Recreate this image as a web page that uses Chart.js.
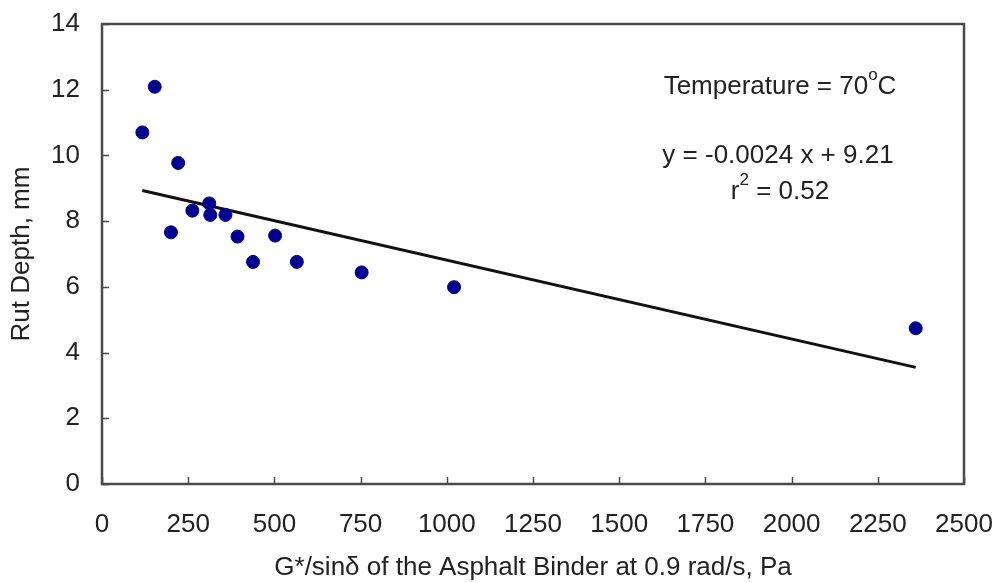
<!DOCTYPE html>
<html>
<head>
  <meta charset="UTF-8">
  <title>Rut Depth vs G*/sin delta</title>
  <script src="https://cdn.jsdelivr.net/npm/chart.js"></script>
  <style>
    html, body { margin: 0; padding: 0; background: #fff; }
    #wrap { width: 996px; height: 583px; }
  </style>
</head>
<body>
  <div id="wrap"><canvas id="rutChart" width="996" height="583"></canvas></div>

  <script>
    // values
    const binderStiffness = [153, 117, 221, 262, 311, 314, 358, 200, 393, 502, 438, 565, 753, 1021, 2360];
    const rutDepth = [12.09, 10.70, 9.77, 8.32, 8.54, 8.19, 8.19, 7.66, 7.53, 7.56, 6.76, 6.76, 6.44, 5.99, 4.74];
    const trendX = [117, 2360];
    const trendY = [8.93, 3.55];
    const xTicks = [0, 250, 500, 750, 1000, 1250, 1500, 1750, 2000, 2250, 2500];
    const yTicks = [0, 2, 4, 6, 8, 10, 12, 14];

    const FONT = "'Liberation Sans', Arial, sans-serif";
    const AXIS = '#4a4a4a';
    const TEXT = '#222';

    const points = binderStiffness.map((x, i) => ({ x: x, y: rutDepth[i] }));
    const trend = trendX.map((x, i) => ({ x: x, y: trendY[i] }));

    // box around the plot, inward ticks and the note text
    const frame = {
      id: 'frame',
      afterDatasetsDraw(chart) {
        const ctx = chart.ctx;
        const a = chart.chartArea;
        const xs = chart.scales.x, ys = chart.scales.y;
        ctx.save();
        ctx.strokeStyle = AXIS;
        ctx.lineWidth = 2.5;
        ctx.strokeRect(a.left, a.top, a.right - a.left, a.bottom - a.top);
        ctx.lineWidth = 1.5;
        ctx.beginPath();
        xTicks.forEach(v => {
          const px = Math.round(xs.getPixelForValue(v)) + 0.5;
          ctx.moveTo(px, a.bottom);
          ctx.lineTo(px, a.bottom - 7);
        });
        yTicks.forEach(v => {
          const py = Math.round(ys.getPixelForValue(v)) + 0.5;
          ctx.moveTo(a.left, py);
          ctx.lineTo(a.left + 7, py);
        });
        ctx.stroke();

        ctx.fillStyle = TEXT;
        ctx.textBaseline = 'middle';
        const big = '26px ' + FONT, small = '17px ' + FONT;

        // text runs, superscripts marked with true
        function runs(parts, cx, cy) {
          let w = 0;
          parts.forEach(p => { ctx.font = p[1] ? small : big; w += ctx.measureText(p[0]).width; });
          let x = cx - w / 2;
          ctx.textAlign = 'left';
          parts.forEach(p => {
            ctx.font = p[1] ? small : big;
            ctx.fillText(p[0], x, p[1] ? cy - 12 : cy);
            x += ctx.measureText(p[0]).width;
          });
        }
        runs([['Temperature = 70', false], ['o', true], ['C', false]], 780, 87);
        runs([['y = -0.0024 x + 9.21', false]], 778, 156);
        runs([['r', false], ['2', true], [' = 0.52', false]], 780, 192);
        ctx.restore();
      }
    };

    new Chart(document.getElementById('rutChart'), {
      type: 'scatter',
      data: {
        datasets: [
          {
            label: 'Rut depth',
            data: points,
            backgroundColor: '#000090',
            borderColor: '#000090',
            pointRadius: 6.5,
            pointHoverRadius: 6.5
          },
          {
            label: 'Linear fit',
            type: 'line',
            data: trend,
            borderColor: '#111',
            borderWidth: 3,
            pointRadius: 0,
            fill: false
          }
        ]
      },
      options: {
        responsive: false,
        animation: false,
        layout: { padding: { top: 24, right: 32, left: 0, bottom: 0 } },
        plugins: {
          legend: { display: false },
          tooltip: { enabled: false }
        },
        scales: {
          x: {
            type: 'linear',
            min: 0,
            max: 2500,
            afterBuildTicks: s => { s.ticks = xTicks.map(v => ({ value: v })); },
            afterFit: s => { s.height = 99; s.paddingLeft = 0; s.paddingRight = 0; },
            grid: { display: false, drawTicks: false },
            border: { display: false },
            ticks: {
              color: TEXT,
              font: { family: FONT, size: 26 },
              padding: 25,
              maxRotation: 0,
              callback: v => String(v)
            },
            title: {
              display: true,
              text: 'G*/sinδ of the Asphalt Binder at 0.9 rad/s, Pa',
              color: TEXT,
              font: { family: FONT, size: 26 },
              padding: { top: 0, bottom: 0 }
            }
          },
          y: {
            min: 0,
            max: 14,
            afterBuildTicks: s => { s.ticks = yTicks.map(v => ({ value: v })); },
            afterFit: s => { s.width = 102; s.paddingTop = 0; s.paddingBottom = 0; },
            grid: { display: false, drawTicks: false },
            border: { display: false },
            ticks: { color: TEXT, font: { family: FONT, size: 26 }, padding: 22 },
            title: {
              display: true,
              text: 'Rut Depth, mm',
              color: TEXT,
              font: { family: FONT, size: 26 },
              padding: { top: 6, bottom: 0 }
            }
          }
        }
      },
      plugins: [frame]
    });
  </script>
</body>
</html>
